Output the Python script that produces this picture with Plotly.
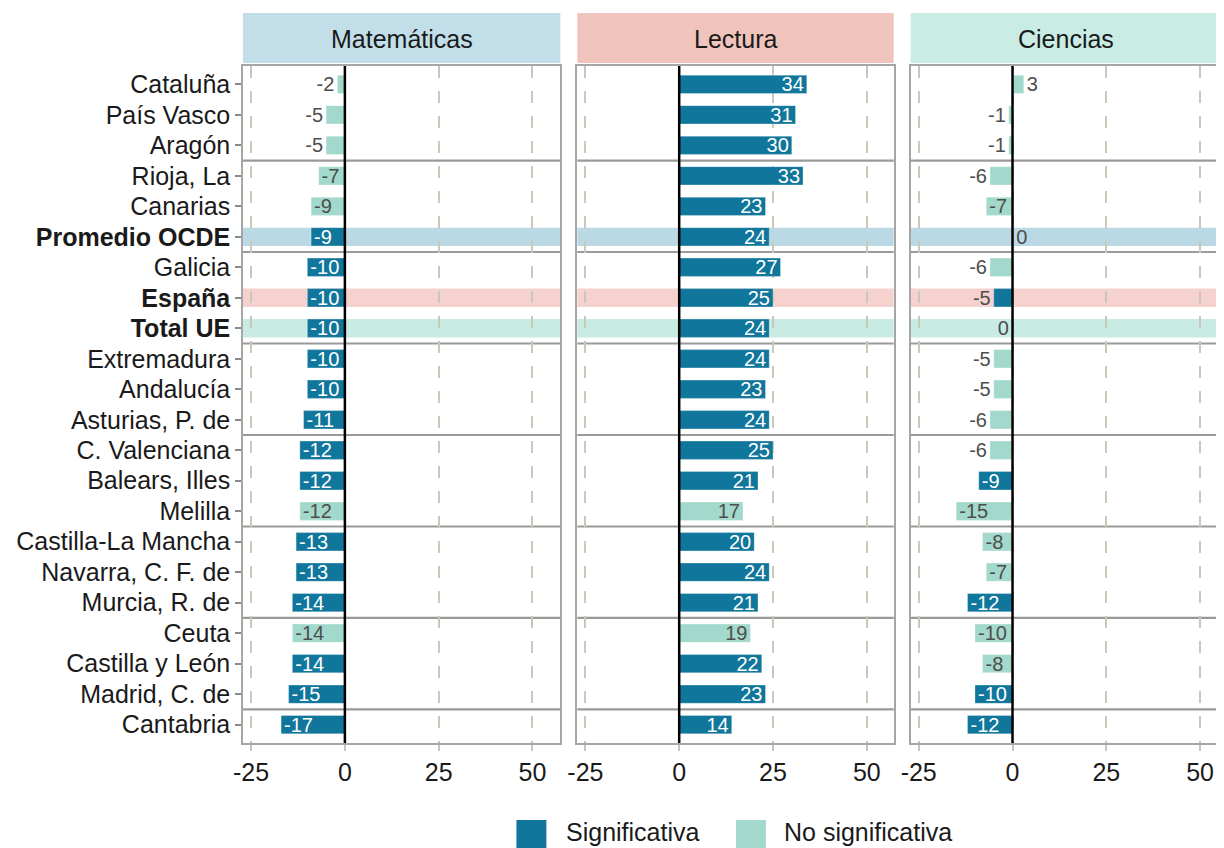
import plotly.graph_objects as go

# ---------------- data ----------------
regiones = [
    "Cataluña", "País Vasco", "Aragón", "Rioja, La", "Canarias", "Promedio OCDE",
    "Galicia", "España", "Total UE", "Extremadura", "Andalucía", "Asturias, P. de",
    "C. Valenciana", "Balears, Illes", "Melilla", "Castilla-La Mancha",
    "Navarra, C. F. de", "Murcia, R. de", "Ceuta", "Castilla y León",
    "Madrid, C. de", "Cantabria",
]
materias = ["Matemáticas", "Lectura", "Ciencias"]

mat_val = [-2, -5, -5, -7, -9, -9, -10, -10, -10, -10, -10, -11, -12, -12, -12, -13, -13, -14, -14, -14, -15, -17]
mat_sig = [0, 0, 0, 0, 0, 1, 1, 1, 1, 1, 1, 1, 1, 1, 0, 1, 1, 1, 0, 1, 1, 1]

lec_val = [34, 31, 30, 33, 23, 24, 27, 25, 24, 24, 23, 24, 25, 21, 17, 20, 24, 21, 19, 22, 23, 14]
lec_sig = [1, 1, 1, 1, 1, 1, 1, 1, 1, 1, 1, 1, 1, 1, 0, 1, 1, 1, 0, 1, 1, 1]

cie_val = [3, -1, -1, -6, -7, 0.2, -6, -5, -0.2, -5, -5, -6, -6, -9, -15, -8, -7, -12, -10, -8, -10, -12]
cie_sig = [0, 0, 0, 0, 0, 0, 0, 1, 0, 0, 0, 0, 0, 1, 0, 0, 0, 1, 0, 0, 1, 1]

destacadas = ["Promedio OCDE", "España", "Total UE"]
leyenda = ["Significativa", "No significativa"]
x_tickvals = [-25, 0, 25, 50]
x_ticktext = ["-25", "0", "25", "50"]

# ---------------- style ----------------
FONT = "Liberation Sans, Arial, sans-serif"
C_SIG = "#10769b"
C_NOSIG = "#a3d9cc"
STRIP_COLORS = ["#c2dfe9", "#f0c4bc", "#c9ece4"]
BAND_COLORS = ["rgba(150,196,214,0.65)", "rgba(238,180,172,0.6)", "rgba(170,224,212,0.65)"]
GRID = "#c9c9ba"
BORDER = "#a6a6a6"
SEP = "#9a9a9a"

OFF = 8  # page offset of the figure (body margin)
W, H = 1224 - OFF, 848 - OFF
ML, MT = 243 - OFF, 66 - OFF
MR = 0
PLOT_BOTTOM = 743 - OFF
MB = H - PLOT_BOTTOM
PW, PH = W - ML - MR, H - MT - MB
PX_PER_UNIT = 3.76
X_LEFT = -27.15
panels_px = [(243, 561), (578, 895), (912, 1224)]  # page coordinates


def fx(px):
    return (px - OFF - ML) / PW


def fy(py):
    return 1 - (py - OFF - MT) / PH


fig = go.Figure()
series = [(mat_val, mat_sig), (lec_val, lec_sig), (cie_val, cie_sig)]

for p, (vals, sigs) in enumerate(series):
    xa = "x" if p == 0 else f"x{p + 1}"
    ya = "y" if p == 0 else f"y{p + 1}"
    for s, color, intext in [(1, C_SIG, "white"), (0, C_NOSIG, "#4d4d4d")]:
        idx = [i for i in range(len(regiones)) if sigs[i] == s]
        xv = [vals[i] for i in idx]
        yv = [regiones[i] for i in idx]
        labels = [str(int(round(v))) for v in xv]
        pos = ["inside" if abs(v) >= 7 else "outside" for v in xv]
        fig.add_trace(go.Bar(
            x=xv, y=yv, orientation="h", width=0.6,
            marker=dict(color=color, line=dict(color="rgba(255,255,255,0.5)", width=0.6)),
            text=labels, textposition=pos, insidetextanchor="end", textangle=0,
            textfont=dict(size=20, family=FONT),
            insidetextfont=dict(size=20, family=FONT, color=intext),
            outsidetextfont=dict(size=20, family=FONT, color="#4d4d4d"),
            constraintext="none", cliponaxis=False,
            showlegend=False, hoverinfo="x+y",
            xaxis=xa, yaxis=ya,
        ))

ticktext_y = [f"<b>{r}</b>" if r in destacadas else r for r in regiones]

layout = dict(
    width=W, height=H,
    margin=dict(l=ML, r=MR, t=MT, b=MB),
    paper_bgcolor="white", plot_bgcolor="white",
    barmode="overlay",
    font=dict(family=FONT, color="#1a1a1a"),
    showlegend=False,
)

shapes = []
annotations = []
for p, (a, b) in enumerate(panels_px):
    width_px = b - a
    xr = [X_LEFT, X_LEFT + width_px / PX_PER_UNIT]
    key = "xaxis" if p == 0 else f"xaxis{p + 1}"
    ykey = "yaxis" if p == 0 else f"yaxis{p + 1}"
    xa_ref = "x" if p == 0 else f"x{p + 1}"
    ya_ref = "y" if p == 0 else f"y{p + 1}"
    layout[key] = dict(
        domain=[fx(a), min(fx(b), 1.0)], anchor=ya_ref, range=xr,
        tickvals=x_tickvals, ticktext=x_ticktext,
        tickfont=dict(size=25, color="#1a1a1a"),
        showgrid=True, gridcolor=GRID, gridwidth=2, griddash="12px,13px",
        zeroline=False,
        showline=True, linecolor=BORDER, linewidth=1.5, mirror=True,
        ticks="outside", ticklen=6, tickwidth=2, tickcolor=GRID,
        fixedrange=True,
    )
    ydict = dict(
        anchor=xa_ref,
        type="category", categoryorder="array", categoryarray=regiones,
        range=[len(regiones) - 0.4, -0.6],
        showgrid=False, zeroline=False,
        showline=True, linecolor=BORDER, linewidth=1.5, mirror=True,
        fixedrange=True,
    )
    if p == 0:
        ydict.update(tickvals=regiones, ticktext=ticktext_y,
                     tickfont=dict(size=25, color="#1a1a1a"),
                     ticks="outside", ticklen=6, tickwidth=1.5, tickcolor="#8a8a8a")
    else:
        ydict.update(matches="y", showticklabels=False, ticks="")
    layout[ykey] = ydict

    xdom_ref = xa_ref + " domain"
    ydom_ref = ya_ref + " domain"
    # highlight bands
    for r, col in zip(destacadas, BAND_COLORS):
        i = regiones.index(r)
        shapes.append(dict(type="rect", xref=xdom_ref, yref=ya_ref, x0=0, x1=1,
                           y0=i - 0.3, y1=i + 0.3, fillcolor=col, line=dict(width=0),
                           layer="below"))
    # group separators
    for k in range(3, len(regiones), 3):
        shapes.append(dict(type="line", xref=xdom_ref, yref=ya_ref, x0=0, x1=1,
                           y0=k - 0.5, y1=k - 0.5, line=dict(color=SEP, width=2.2),
                           layer="below"))
    # solid zero reference line
    shapes.append(dict(type="line", xref=xa_ref, yref=ydom_ref, x0=0, x1=0, y0=0, y1=1,
                       line=dict(color="black", width=2.5), layer="above"))
    # strip
    shapes.append(dict(type="rect", xref="paper", yref="paper",
                       x0=fx(a), x1=min(fx(b), 1.0), y0=fy(63), y1=fy(13),
                       fillcolor=STRIP_COLORS[p], line=dict(width=0), layer="above"))
    annotations.append(dict(text=materias[p], xref="paper", yref="paper",
                            x=(fx(a) + fx(b)) / 2, y=fy(39), xanchor="center", yanchor="middle",
                            showarrow=False, font=dict(size=25, color="#1a1a1a")))

# manual legend (bottom)
leg_items = [(517, 565, C_SIG, leyenda[0]), (737, 783, C_NOSIG, leyenda[1])]
for sx, tx, col, lab in leg_items:
    shapes.append(dict(type="rect", xref="paper", yref="paper",
                       x0=fx(sx), x1=fx(sx + 30), y0=fy(849), y1=fy(820),
                       fillcolor=col, line=dict(width=0)))
    annotations.append(dict(text=lab, xref="paper", yref="paper", x=fx(tx), y=fy(832),
                            xanchor="left", yanchor="middle", showarrow=False,
                            font=dict(size=25, color="#1a1a1a")))

layout["shapes"] = shapes
layout["annotations"] = annotations
fig.update_layout(**layout)

fig.write_html("out.html", include_plotlyjs=True, config={"displayModeBar": False})
